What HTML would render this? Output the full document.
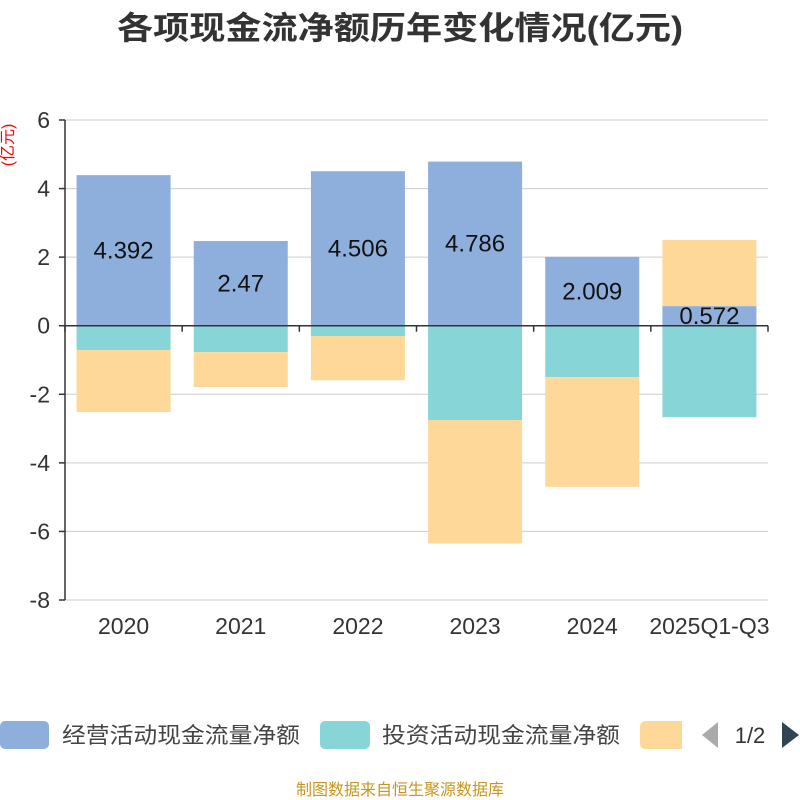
<!DOCTYPE html>
<html><head><meta charset="utf-8"><style>
body{margin:0;background:#fff;}
svg{display:block;font-family:"Liberation Sans","Noto Sans CJK SC",sans-serif;}
</style></head><body>
<svg id="c" width="800" height="800">
<text x="400" y="39" text-anchor="middle" font-size="32" font-weight="bold" fill="#333" textLength="566" lengthAdjust="spacingAndGlyphs">各项现金流净额历年变化情况(亿元)</text>
<text transform="translate(13,145) rotate(-90)" text-anchor="middle" font-size="16" fill="#f00">(亿元)</text>
<g id="grid"></g>
<g id="bars"></g>
<g id="axes"></g>
<g>
<rect x="0" y="721" width="49" height="28" rx="5" fill="#8eaedb"/>
<text x="62" y="743" font-size="22" fill="#444" textLength="238" lengthAdjust="spacingAndGlyphs">经营活动现金流量净额</text>
<rect x="320" y="721" width="50" height="28" rx="5" fill="#88d5d8"/>
<text x="382" y="743" font-size="22" fill="#444" textLength="238" lengthAdjust="spacingAndGlyphs">投资活动现金流量净额</text>
<path d="M645,721 H682 V749 H645 A5,5 0 0 1 640,744 V726 A5,5 0 0 1 645,721Z" fill="#fed898"/>
<path d="M718,722 L702,735 L718,748Z" fill="#aaa"/>
<text x="750" y="743" text-anchor="middle" font-size="22" fill="#333">1/2</text>
<path d="M782,722 L799,735 L782,748Z" fill="#2f4554"/>
</g>
<text x="400" y="795" text-anchor="middle" font-size="16" fill="#c8961e">制图数据来自恒生聚源数据库</text>
</svg>
<script>
const categories=["2020","2021","2022","2023","2024","2025Q1-Q3"];
const operating=[4.392,2.47,4.506,4.786,2.009,0.572];
const investing=[-0.71,-0.77,-0.3,-2.75,-1.5,-2.67];
const financing=[-1.81,-1.02,-1.29,-3.6,-3.2,1.93];
const yTicks=[-8,-6,-4,-2,0,2,4,6];
const NS="http://www.w3.org/2000/svg";
const x0=65,x1=768,yTop=120,yBot=600,yMin=-8,yMax=6;
const y=v=>yTop+(yMax-v)/(yMax-yMin)*(yBot-yTop);
const bw=(x1-x0)/categories.length;
const xc=i=>x0+bw*(i+0.5);
function mk(tag,parent,attrs){const e=document.createElementNS(NS,tag);for(const k in attrs)e.setAttribute(k,attrs[k]);document.getElementById(parent).appendChild(e);return e;}
yTicks.forEach(t=>{
  const l=mk("line","grid",{x1:x0,x2:x1,y1:y(t),y2:y(t),stroke:"#ccc","stroke-width":1});
  
  
  const tk=mk("line","axes",{x1:x0-6,x2:x0,y1:y(t),y2:y(t),stroke:"#333","stroke-width":1.5});
  
  
  const tx=mk("text","axes",{x:x0-15,y:y(t)+8,"text-anchor":"end","font-size":23,fill:"#333"});
  tx.textContent=t;
  
  
});
const series=[[operating,"#8eaedb"],[investing,"#88d5d8"],[financing,"#fed898"]];
categories.forEach((c,i)=>{
  let pos=0,neg=0;
  series.forEach(([arr,col],si)=>{
    const v=arr[i];let a,b;
    if(v>=0){a=pos;b=pos+v;pos=b;}else{a=neg;b=neg+v;neg=b;}
    const top=y(Math.max(a,b)),bot=y(Math.min(a,b));
    const r=mk("rect","bars",{x:xc(i)-47,y:top,width:94,height:bot-top,fill:col});
    
    
  });
  const lb=mk("text","bars",{x:xc(i),y:y(operating[i]/2)+8,"text-anchor":"middle","font-size":24,fill:"#111"});
  lb.textContent=operating[i];
  
  
  const tx=mk("text","axes",{x:xc(i),y:634,"text-anchor":"middle","font-size":23,fill:"#333"});
  tx.textContent=c;
  
  
});
for(let i=0;i<=categories.length;i++){
  const tk=mk("line","axes",{x1:x0+bw*i,x2:x0+bw*i,y1:y(0),y2:y(0)+6,stroke:"#333","stroke-width":1.5});
  
  
}
const ya=mk("line","axes",{x1:x0,x2:x0,y1:yTop,y2:yBot,stroke:"#333","stroke-width":1.5});


const xa=mk("line","axes",{x1:x0,x2:x1,y1:y(0),y2:y(0),stroke:"#333","stroke-width":1.5});


</script>
</body></html>
